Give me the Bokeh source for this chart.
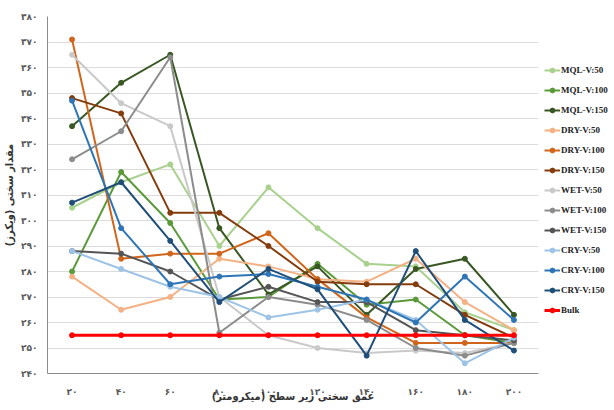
from bokeh.plotting import figure
from bokeh.layouts import row
from bokeh.models import Legend, LegendItem, FixedTicker, Range1d, FactorRange
from bokeh.embed import file_html
from bokeh.resources import INLINE

# ---- data ----
depth_labels = ["۲۰", "۴۰", "۶۰", "۸۰", "۱۰۰", "۱۲۰", "۱۴۰", "۱۶۰", "۱۸۰", "۲۰۰"]
y_ticks = [240, 250, 260, 270, 280, 290, 300, 310, 320, 330, 340, 350, 360, 370, 380]
y_tick_labels = ["۲۴۰", "۲۵۰", "۲۶۰", "۲۷۰", "۲۸۰", "۲۹۰", "۳۰۰", "۳۱۰",
                 "۳۲۰", "۳۳۰", "۳۴۰", "۳۵۰", "۳۶۰", "۳۷۰", "۳۸۰"]

mql_v50 = [305, 315, 322, 290, 313, 297, 283, 282, 264, 257]
mql_v100 = [280, 319, 299, 269, 270, 283, 267, 269, 255, 252]
mql_v150 = [337, 354, 365, 297, 271, 282, 263, 281, 285, 263]
dry_v50 = [278, 265, 270, 285, 282, 277, 276, 285, 268, 257]
dry_v100 = [371, 285, 287, 287, 295, 277, 262, 252, 252, 252]
dry_v150 = [348, 342, 303, 303, 290, 276, 275, 275, 263, 254]
wet_v50 = [365, 346, 337, 270, 255, 250, 248, 249, 248, 252]
wet_v100 = [324, 335, 364, 256, 270, 267, 261, 250, 247, 252]
wet_v150 = [288, 287, 280, 269, 274, 268, 268, 257, 255, 253]
cry_v50 = [288, 281, 274, 270, 262, 265, 269, 261, 244, 254]
cry_v100 = [347, 297, 275, 278, 279, 274, 269, 260, 278, 261]
cry_v150 = [307, 315, 292, 268, 281, 273, 247, 288, 261, 249]
bulk = [255, 255, 255, 255, 255, 255, 255, 255, 255, 255]

series_names = ["MQL-V:50", "MQL-V:100", "MQL-V:150", "DRY-V:50", "DRY-V:100", "DRY-V:150",
                "WET-V:50", "WET-V:100", "WET-V:150", "CRY-V:50", "CRY-V:100", "CRY-V:150", "Bulk"]
series_values = [mql_v50, mql_v100, mql_v150, dry_v50, dry_v100, dry_v150,
                 wet_v50, wet_v100, wet_v150, cry_v50, cry_v100, cry_v150, bulk]
series_colors = ["#a9d18e", "#5b9a3b", "#385723", "#f4b183", "#d0661c", "#843c0c",
                 "#c9c9c9", "#8c8c8c", "#555555", "#9dc3e6", "#2e75b6", "#1f4e79", "#ff0000"]

p = figure(width=540, height=410, output_backend="svg", toolbar_location=None,
           x_range=FactorRange(*depth_labels),
           y_range=Range1d(240, 380),
           min_border_left=47, min_border_top=16, min_border_bottom=37, min_border_right=2)
p.x_range.range_padding = 0
p.outline_line_color = None
p.background_fill_color = "white"
p.border_fill_color = "white"

# legend panel as a separate small figure (its proxy renderers sit outside its visible range)
lg = figure(width=74, height=410, output_backend="svg", toolbar_location=None,
            x_range=Range1d(0, 1), y_range=Range1d(0, 1),
            min_border_left=0, min_border_right=0, min_border_top=0, min_border_bottom=0)
lg.axis.visible = False
lg.grid.visible = False
lg.outline_line_color = None

items = []
for name, vals, col in zip(series_names, series_values, series_colors):
    lw = 3 if name == "Bulk" else 2
    p.line(x=depth_labels, y=vals, line_color=col, line_width=lw)
    p.scatter(x=depth_labels, y=vals, size=5, fill_color=col, line_color=col)
    l1 = lg.line(x=[-5, -4], y=[-5, -4], line_color=col, line_width=lw)
    l2 = lg.scatter(x=[-5], y=[-5], size=5, fill_color=col, line_color=col)
    items.append(LegendItem(label=name, renderers=[l1, l2]))

legend = Legend(items=items, location=(4, 57),
                label_text_font="Liberation Serif", label_text_font_style="bold",
                label_text_font_size="9px", label_text_color="#222222",
                glyph_width=16, glyph_height=12, label_height=12, label_standoff=1,
                spacing=8, padding=0, margin=0,
                border_line_color=None, background_fill_alpha=0)
lg.add_layout(legend)

p.xgrid.grid_line_color = None
p.ygrid.grid_line_color = "#dcdcdc"
p.ygrid.grid_line_width = 1
p.yaxis.ticker = FixedTicker(ticks=y_ticks)
p.yaxis.major_label_overrides = {t: s for t, s in zip(y_ticks, y_tick_labels)}

for ax in (p.xaxis[0], p.yaxis[0]):
    ax.axis_line_color = "#8c8c8c"
    ax.axis_line_width = 1
    ax.major_tick_line_color = None
    ax.minor_tick_line_color = None
    ax.major_tick_out = 0
    ax.major_tick_in = 0
    ax.minor_tick_out = 0
    ax.minor_tick_in = 0
    ax.major_label_text_font = "DejaVu Sans"
    ax.major_label_text_font_style = "bold"
    ax.major_label_text_font_size = "9px"
    ax.major_label_text_color = "#595959"
    ax.axis_label_text_font = "DejaVu Sans Condensed"
    ax.axis_label_text_font_style = "bold"
    ax.axis_label_text_font_size = "11px"
    ax.axis_label_text_color = "#333333"

p.yaxis.major_label_standoff = 10
p.xaxis.major_label_standoff = 13

p.yaxis.axis_label = "مقدار سختی (ویکرز)"
p.yaxis.axis_label_standoff = 2
p.xaxis.axis_label = "عمق سختی زیر سطح (میکرومتر)"
p.xaxis.axis_label_standoff = -10

layout = row(p, lg)
open("out.html", "w").write(file_html(layout, INLINE))
